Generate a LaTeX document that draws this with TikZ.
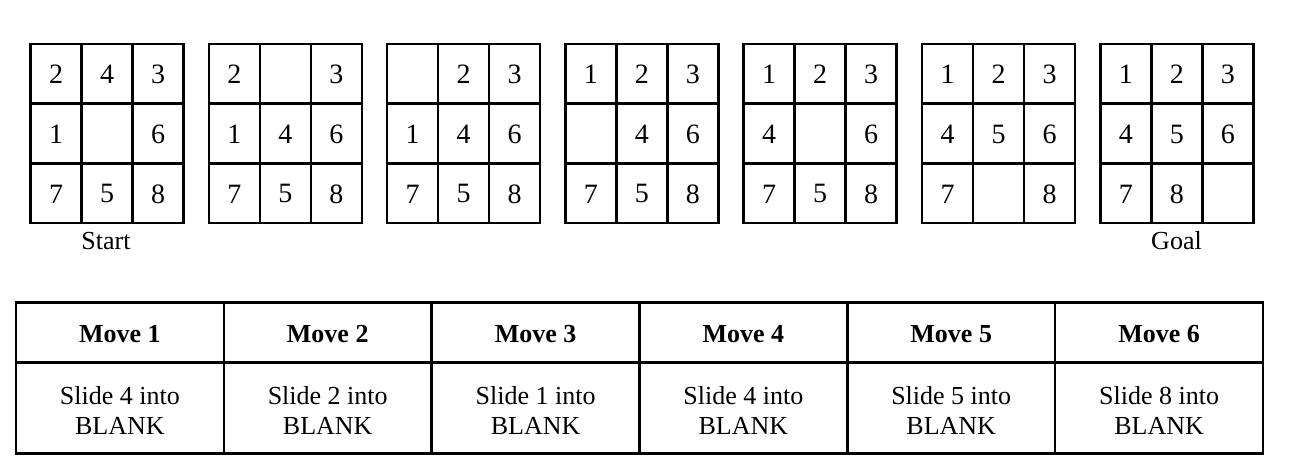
\documentclass[tikz,border=0pt]{standalone}
\usepackage{fontspec}
\setmainfont{Liberation Serif}
\begin{document}
\begin{tikzpicture}[x=0.5pt,y=-0.5pt,
  gridline/.style={line width=1.25pt,draw=black},
  digit/.style={font=\fontsize{14}{16}\selectfont,inner sep=0pt},
  caption/.style={font=\fontsize{13}{15}\selectfont,inner sep=0pt},
  headtext/.style={font=\fontsize{13}{15}\selectfont\bfseries,inner sep=0pt},
  celltext/.style={font=\fontsize{13}{15}\selectfont,inner sep=0pt,anchor=base}]
\useasboundingbox (0,0) rectangle (1290,470);
\fill[white] (0,0) rectangle (1290,470);
% puzzle grids
\foreach \state [count=\g from 0] in {{2,4,3,1,,6,7,5,8},{2,,3,1,4,6,7,5,8},{,2,3,1,4,6,7,5,8},{1,2,3,,4,6,7,5,8},{1,2,3,4,,6,7,5,8},{1,2,3,4,5,6,7,,8},{1,2,3,4,5,6,7,8,}}{
  \pgfmathsetmacro{\xo}{30.5+178.3*\g}
  \draw[gridline] (\xo,44) rectangle ++(153,179);
  \draw[gridline] (\xo+51,44) -- ++(0,179);
  \draw[gridline] (\xo+102,44) -- ++(0,179);
  \draw[gridline] (\xo,103.67) -- ++(153,0);
  \draw[gridline] (\xo,163.33) -- ++(153,0);
  \foreach \v [count=\k from 0] in \state {
    \pgfmathtruncatemacro{\r}{int(\k/3)}
    \pgfmathtruncatemacro{\c}{mod(\k,3)}
    \node[digit] (n\g-\k) at (\xo+25.5+51*\c, 74.5+59.67*\r) {\v};
  }
}
\node[caption] (start) at (106,241) {Start};
\node[caption] (goal) at (1176.5,241) {Goal};
% table
\draw[gridline] (16,302.7) rectangle (1263,453.3);
\draw[gridline] (16,362.3) -- (1263,362.3);
\foreach \j in {1,...,5}{
  \draw[gridline] (16+207.83*\j,302.7) -- (16+207.83*\j,453.3);
}
\foreach \t [count=\j from 0] in {4,2,1,4,5,8}{
  \pgfmathsetmacro{\xc}{16+207.83*\j+103.9}
  \pgfmathtruncatemacro{\m}{\j+1}
  \node[headtext] (h\j) at (\xc,334.5) {Move \m};
  \node[celltext] (a\j) at (\xc,404.5) {Slide \t\ into};
  \node[celltext] (b\j) at (\xc,434.5) {BLANK};
}
\end{tikzpicture}
\end{document}
